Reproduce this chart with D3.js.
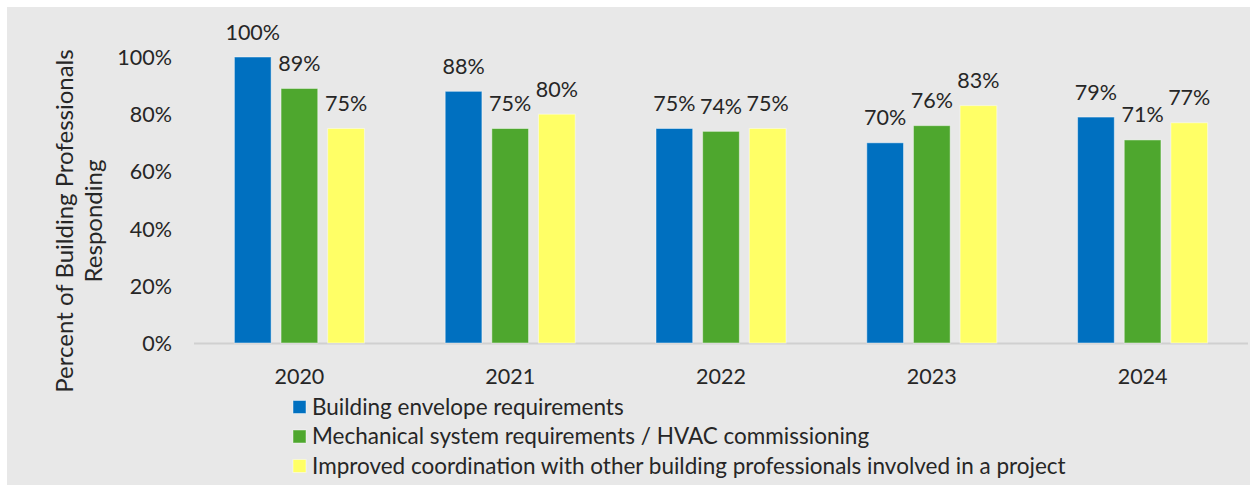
<!DOCTYPE html>
<html>
<head>
<meta charset="utf-8">
<script src="https://cdn.jsdelivr.net/npm/d3@7"></script>
<style>
  html, body { margin: 0; padding: 0; background: #ffffff; }
  svg { display: block; }
  text { font-family: Lato, "Open Sans", sans-serif; fill: #262626; }
</style>
</head>
<body>
<svg id="chart" width="1250" height="485"></svg>
<script>
// Survey years and answer categories
const years = ["2020", "2021", "2022", "2023", "2024"];
const seriesNames = [
  "Building envelope requirements",
  "Mechanical system requirements / HVAC commissioning",
  "Improved coordination with other building professionals involved in a project"
];
// Share of respondents (%) per year, one array per series
const envelope = [100, 88, 75, 70, 79];
const mechanical = [89, 75, 74, 76, 71];
const coordination = [75, 80, 75, 83, 77];
const yTicks = [0, 20, 40, 60, 80, 100];
const colors = ["#0070C0", "#4EA72E", "#FFFF66"];

const seriesValues = [envelope, mechanical, coordination];
const rows = years.map((yr, i) => ({
  year: yr,
  vals: seriesNames.map((s, k) => ({ key: s, k, value: seriesValues[k][i] }))
}));

const svg = d3.select("#chart");
const labelSize = "21.5px";

// panel background
svg.append("rect")
  .attr("x", 7).attr("y", 7)
  .attr("width", 1243).attr("height", 478)
  .attr("fill", "#e8e8e8");

const plotLeft = 194, plotRight = 1248, yBase = 343, yTop = 57;

const y = d3.scaleLinear().domain([0, 100]).range([yBase, yTop]);
const x0 = d3.scaleBand().domain(years).range([plotLeft, plotRight]);
const groupW = 130;
const x1 = d3.scaleBand().domain(seriesNames).range([0, groupW]).paddingInner(0.213);

// y axis: labels only
const yAxis = d3.axisLeft(y).tickValues(yTicks).tickFormat(d => d + "%").tickSize(0).tickPadding(0);
const gy = svg.append("g").attr("transform", "translate(172,0)").call(yAxis);
gy.select(".domain").remove();
gy.selectAll("text")
  .style("font-size", labelSize)
  .style("font-family", "Lato, 'Open Sans', sans-serif")
  .attr("fill", "#262626")
  .attr("dy", "0.35em");

// baseline
svg.append("line")
  .attr("x1", plotLeft).attr("x2", plotRight)
  .attr("y1", yBase + 0.5).attr("y2", yBase + 0.5)
  .attr("stroke", "#d0d0d0").attr("stroke-width", 2);

// x axis labels
const xAxis = d3.axisBottom(x0).tickSize(0).tickPadding(0);
const gx = svg.append("g").attr("transform", `translate(0,${yBase})`).call(xAxis);
gx.select(".domain").remove();
gx.selectAll("text")
  .style("font-size", labelSize)
  .style("font-family", "Lato, 'Open Sans', sans-serif")
  .attr("fill", "#262626")
  .attr("dy", "0")
  .attr("y", 41);

// bars
const offset = (x0.bandwidth() - groupW) / 2;
const groups = svg.append("g").selectAll("g")
  .data(rows).join("g")
  .attr("transform", d => `translate(${x0(d.year) + offset},0)`);

groups.selectAll("rect")
  .data(d => d.vals).join("rect")
  .attr("x", d => x1(d.key))
  .attr("y", d => y(d.value))
  .attr("width", x1.bandwidth())
  .attr("height", d => yBase - y(d.value))
  .attr("fill", d => colors[d.k])
  .attr("stroke", "rgba(255,255,255,0.45)")
  .attr("stroke-width", 1);

groups.selectAll("text.val")
  .data(d => d.vals).join("text")
  .attr("class", "val")
  .attr("x", d => x1(d.key) + x1.bandwidth() / 2)
  .attr("y", d => y(d.value) - 25)
  .attr("dy", "0.35em")
  .attr("text-anchor", "middle")
  .style("font-size", labelSize)
  .text(d => d.value + "%");

// y axis title
const title = svg.append("text")
  .attr("transform", "translate(79,221) rotate(-90)")
  .attr("text-anchor", "middle")
  .style("font-size", "24px");
title.append("tspan").attr("x", 0).attr("dy", "-0.25em").text("Percent of Building Professionals");
title.append("tspan").attr("x", 0).attr("dy", "1.2em").text("Responding");

// legend
const legend = svg.append("g").selectAll("g")
  .data(seriesNames).join("g")
  .attr("transform", (d, i) => `translate(293,${407 + i * 29.5})`);
legend.append("rect")
  .attr("x", 0).attr("y", -6.5)
  .attr("width", 13).attr("height", 13)
  .attr("fill", (d, i) => colors[i])
  .attr("stroke", "rgba(255,255,255,0.45)")
  .attr("stroke-width", 1);
legend.append("text")
  .attr("x", 19).attr("y", 0).attr("dy", "0.35em")
  .style("font-size", "22.5px")
  .text(d => d);
</script>
</body>
</html>
